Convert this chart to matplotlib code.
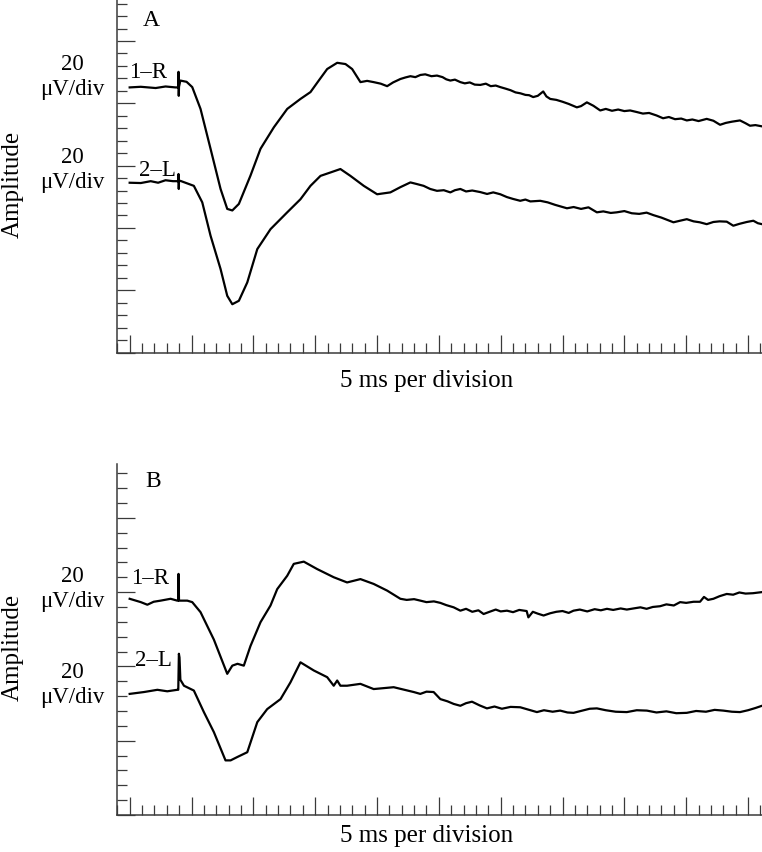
import matplotlib
matplotlib.use("Agg")
import matplotlib.pyplot as plt
from matplotlib.ticker import MultipleLocator

plt.rcParams['font.family'] = ['Liberation Serif', 'DejaVu Serif']

# ---------------- data (time in ms, amplitude in µV relative to baseline) ----------------
# Panel A, trace 1-R
a1_t = [0.0, 0.9, 2.1, 2.9, 3.7, 3.92, 3.95, 3.97, 3.99, 4.1, 4.6, 5.06, 5.73, 6.54, 7.35,
        7.89, 8.30, 8.83, 9.77, 10.58, 11.66, 12.74, 13.81, 14.62, 15.29, 15.97, 16.78,
        17.45, 17.99, 18.66, 19.2, 19.73, 20.3, 20.82, 21.3, 21.89, 22.3, 22.7, 23.1, 23.51,
        23.9, 24.4, 24.85, 25.3, 25.6, 25.93, 26.3, 26.74, 27.1, 27.5, 27.9, 28.35, 28.8,
        29.2, 29.6, 29.97, 30.4, 30.8, 31.2, 31.6, 32.0, 32.3, 32.63, 33.0, 33.44, 33.7,
        34.01, 34.5, 35.0, 35.5, 36.16, 36.5, 36.97, 37.5, 38.05, 38.5, 39.0, 39.5, 40.0,
        40.47, 41.0, 41.5, 42.0, 42.6, 43.13, 43.6, 44.1, 44.6, 45.05, 45.5, 46.0, 46.66,
        47.2, 47.74, 48.2, 48.7, 49.35, 49.8, 50.16, 50.6, 51.13]
a1_v = [0.0, 0.2, -0.2, 0.3, 0.0, 0.0, 5.0, -2.7, 0.2, 2.2, 1.8, 0.1, -6.9, -19.7, -32.6,
        -39.0, -39.5, -37.4, -28.3, -19.7, -12.8, -6.9, -3.7, -1.5, 2.2, 5.9, 7.9,
        7.5, 5.9, 1.7, 2.1, 1.7, 1.2, 0.4, 1.6, 2.7, 3.2, 3.6, 3.3, 4.0,
        4.2, 3.6, 3.8, 3.3, 2.6, 2.2, 2.5, 1.7, 1.3, 1.6, 0.9, 0.8, 1.2,
        0.4, 0.6, 0.1, -0.4, -0.9, -1.6, -1.9, -2.4, -2.5, -3.1, -2.7, -1.3, -2.9,
        -3.7, -4.0, -4.6, -5.3, -6.4, -6.0, -4.8, -5.9, -7.4, -6.9, -7.5, -7.1, -7.6,
        -7.4, -7.9, -8.4, -8.2, -9.0, -9.9, -9.5, -10.2, -10.0, -10.6, -10.3, -10.8, -10.1,
        -10.7, -12.0, -11.4, -11.0, -10.6, -11.5, -12.3, -12.1, -12.5]
# Panel A, trace 2-L
a2_t = [0.0, 0.9, 1.7, 2.3, 2.9, 3.5, 3.92, 3.95, 3.97, 3.99, 4.1, 5.19, 5.87, 6.54, 7.35,
        7.89, 8.30, 8.83, 9.51, 10.32, 11.39, 12.74, 13.81, 14.62, 15.43, 16.24, 17.04,
        17.85, 18.93, 20.01, 21.08, 21.9, 22.70, 23.2, 23.77, 24.3, 24.85, 25.4, 25.93, 26.3,
        26.74, 27.2, 27.7, 28.35, 28.9, 29.4, 29.97, 30.5, 31.0, 31.58, 32.0, 32.4, 33.20,
        33.8, 34.4, 35.36, 35.9, 36.5, 37.10, 37.78, 38.3, 38.9, 39.39, 40.0, 40.6, 41.2,
        41.8, 42.35, 43.0, 43.97, 44.5, 45.05, 45.6, 46.1, 46.66, 47.2, 47.7, 48.28, 48.81,
        49.3, 49.9, 50.43, 50.8, 51.13]
a2_v = [-0.2, -0.3, 0.3, -0.2, 0.6, 0.3, 0.3, 2.6, -2.2, 0.4, 0.4, -1.2, -6.5, -17.2, -27.9,
        -36.5, -39.2, -38.1, -32.2, -21.5, -15.1, -9.7, -5.5, -1.2, 2.0, 3.1, 4.2,
        2.0, -1.2, -3.9, -3.3, -1.6, -0.1, -0.6, -1.2, -2.2, -2.8, -2.6, -3.3, -2.6,
        -2.2, -3.0, -2.7, -3.2, -3.8, -3.3, -3.9, -4.8, -5.4, -6.0, -5.6, -6.2, -6.0,
        -6.5, -7.3, -8.4, -8.0, -8.6, -8.1, -9.7, -9.4, -9.9, -9.7, -9.3, -10.0, -10.2,
        -9.8, -10.6, -11.4, -12.9, -12.4, -11.9, -12.6, -12.9, -13.5, -12.8, -12.6, -12.7, -14.0,
        -13.4, -12.8, -12.4, -13.2, -13.5]
# Panel B, trace 1-R
b1_t = [0.0, 0.9, 1.43, 1.94, 2.5, 3.31, 3.85, 3.92, 3.95, 3.99, 4.66, 5.06, 5.73, 6.81,
        7.35, 7.89, 8.30, 8.72, 9.23, 9.77, 10.58, 11.39, 11.93, 12.74, 13.27, 14.08, 15.16,
        16.50, 17.58, 18.66, 19.73, 20.82, 21.89, 22.4, 23.0, 23.51, 24.0, 24.6, 25.12, 25.6,
        26.2, 26.74, 27.2, 27.7, 28.2, 28.62, 29.1, 29.6, 30.0, 30.51, 31.0, 31.5, 32.1,
        32.24, 32.6, 33.0, 33.47, 34.0, 34.5, 35.0, 35.5, 35.89, 36.4, 37.0, 37.6, 38.1,
        38.59, 39.1, 39.7, 40.2, 40.74, 41.3, 41.8, 42.3, 42.89, 43.4, 44.0, 44.51, 45.0,
        45.6, 46.12, 46.44, 46.77, 47.2, 47.7, 48.28, 48.8, 49.3, 49.8, 50.4, 51.13]
b1_v = [0.5, -0.4, -1.1, -0.3, 0.0, 0.5, 0.0, 0.0, 7.2, 0.0, 0.0, -0.4, -3.1, -10.5,
        -15.1, -19.7, -17.5, -17.0, -17.5, -12.2, -5.8, -1.3, 3.1, 6.7, 9.9, 10.5, 8.5,
        6.3, 4.9, 5.8, 4.5, 2.7, 0.5, 0.2, 0.4, 0.0, -0.4, -0.2, -0.6, -1.2,
        -1.8, -2.7, -2.2, -3.0, -2.6, -3.6, -3.0, -2.4, -2.9, -2.7, -3.1, -2.5, -2.8,
        -4.5, -3.0, -3.5, -4.0, -3.4, -3.0, -2.8, -3.3, -2.7, -2.4, -2.9, -2.3, -2.6,
        -2.2, -2.5, -2.1, -2.4, -2.1, -1.8, -2.2, -1.7, -1.5, -1.0, -1.3, -0.4, -0.6,
        -0.3, -0.3, 1.0, 0.2, 0.5, 1.2, 1.8, 1.6, 2.2, 1.9, 2.0, 2.3]
# Panel B, trace 2-L
b2_t = [0.0, 1.16, 2.24, 3.04, 3.85, 3.93, 3.98, 4.03, 4.10, 4.39, 5.19, 6.00, 6.81, 7.75,
        8.16, 8.70, 9.51, 10.32, 11.12, 12.20, 13.0, 13.81, 14.89, 15.97, 16.50, 16.78,
        17.04, 17.58, 18.66, 19.73, 21.35, 22.97, 23.5, 24.0, 24.58, 25.12, 25.7, 26.2,
        26.74, 27.2, 27.68, 28.3, 28.89, 29.5, 30.1, 30.8, 31.58, 32.2, 32.93, 33.5, 34.2,
        34.81, 35.4, 35.89, 36.6, 37.2, 37.78, 38.5, 39.3, 40.20, 41.0, 41.82, 42.6, 43.4,
        44.2, 45.05, 45.8, 46.6, 47.3, 48.0, 48.7, 49.35, 50.0, 50.6, 51.13]
b2_v = [-0.8, -0.3, 0.3, -0.1, 0.3, 0.3, 10.0, 9.0, 3.0, 1.4, 0.1, -5.7, -11.1, -18.7,
        -18.7, -17.8, -16.5, -8.4, -4.9, -2.2, 2.3, 7.7, 5.5, 3.7, 1.4, 2.8,
        1.4, 1.4, 1.9, 0.5, 1.0, -0.3, -0.8, -0.2, -0.3, -2.2, -2.8, -3.5,
        -4.0, -3.3, -2.9, -3.9, -4.7, -4.2, -4.8, -4.3, -4.4, -5.0, -5.7, -5.2, -5.6,
        -5.3, -5.8, -5.9, -5.3, -4.8, -4.7, -5.2, -5.6, -5.7, -5.2, -5.3, -5.8, -5.5,
        -6.0, -5.9, -5.4, -5.6, -5.1, -5.3, -5.6, -5.7, -5.2, -4.6, -4.0]

# baselines (µV on each panel's amplitude axis)
a_offsets = [85.1, 54.7]
b_offsets = [57.7, 33.4]
trace_labels = ["1\u2013R", "2\u2013L"]
scale_label = "20\n\u03bcV/div"
panel_letters = ["A", "B"]
xlabel = "5 ms per division"
ylabel = "Amplitude"

W, H = 762, 853
fig = plt.figure(figsize=(W / 100, H / 100), dpi=100)


def fx(x):
    return x / W


def fy(y):
    return 1 - y / H


def make_axes(top_px, bottom_px, ylim_top):
    ax = fig.add_axes([fx(117.3), fy(bottom_px), 1 - fx(117.3), (bottom_px - top_px) / H])
    ax.set_xlim(-1, (W - 129) / 12.38)
    ax.set_ylim(0, ylim_top)
    for s in ["top", "right"]:
        ax.spines[s].set_visible(False)
    for s in ["left", "bottom"]:
        ax.spines[s].set_linewidth(1.1)
        ax.spines[s].set_color("#3a3a3a")
    ax.xaxis.set_major_locator(MultipleLocator(5))
    ax.xaxis.set_minor_locator(MultipleLocator(1))
    ax.yaxis.set_major_locator(MultipleLocator(20))
    ax.yaxis.set_minor_locator(MultipleLocator(4))
    ax.tick_params(which="both", direction="in", labelbottom=False, labelleft=False,
                   color="#3a3a3a", width=0.9)
    ax.tick_params(which="major", length=13)
    ax.tick_params(which="minor", length=7)
    return ax


axA = make_axes(0, 353.5, 353.5 / 3.115)
axA.plot(a1_t, [v + a_offsets[0] for v in a1_v], color="black", lw=1.6, solid_joinstyle="round")
axA.plot(a2_t, [v + a_offsets[1] for v in a2_v], color="black", lw=1.6, solid_joinstyle="round")

axB = make_axes(465, 816, (816 - 465) / 3.715)
axB.plot(b1_t, [v + b_offsets[0] for v in b1_v], color="black", lw=1.6, solid_joinstyle="round")
axB.plot(b2_t, [v + b_offsets[1] for v in b2_v], color="black", lw=1.6, solid_joinstyle="round")

fs_big = 18
fs_small = 16.5

# Panel A texts
fig.text(fx(151), fy(21), panel_letters[0], fontsize=17, ha="center", va="center")
fig.text(fx(72), fy(77), scale_label, fontsize=fs_small, ha="center", va="center", linespacing=1.2)
fig.text(fx(72), fy(170), scale_label, fontsize=fs_small, ha="center", va="center", linespacing=1.2)
fig.text(fx(148), fy(72), trace_labels[0], fontsize=fs_small, ha="center", va="center")
fig.text(fx(157), fy(170), trace_labels[1], fontsize=fs_small, ha="center", va="center")
fig.text(fx(13), fy(184), ylabel, fontsize=fs_big, rotation=90, ha="center", va="center")
fig.text(fx(427), fy(381), xlabel, fontsize=fs_big, ha="center", va="center")

# Panel B texts
fig.text(fx(153), fy(482), panel_letters[1], fontsize=17, ha="center", va="center")
fig.text(fx(72), fy(589), scale_label, fontsize=fs_small, ha="center", va="center", linespacing=1.2)
fig.text(fx(72), fy(685), scale_label, fontsize=fs_small, ha="center", va="center", linespacing=1.2)
fig.text(fx(150), fy(579), trace_labels[0], fontsize=fs_small, ha="center", va="center")
fig.text(fx(153), fy(661), trace_labels[1], fontsize=fs_small, ha="center", va="center")
fig.text(fx(13), fy(647), ylabel, fontsize=fs_big, rotation=90, ha="center", va="center")
fig.text(fx(427), fy(836), xlabel, fontsize=fs_big, ha="center", va="center")

fig.savefig("out.png", dpi=100)
